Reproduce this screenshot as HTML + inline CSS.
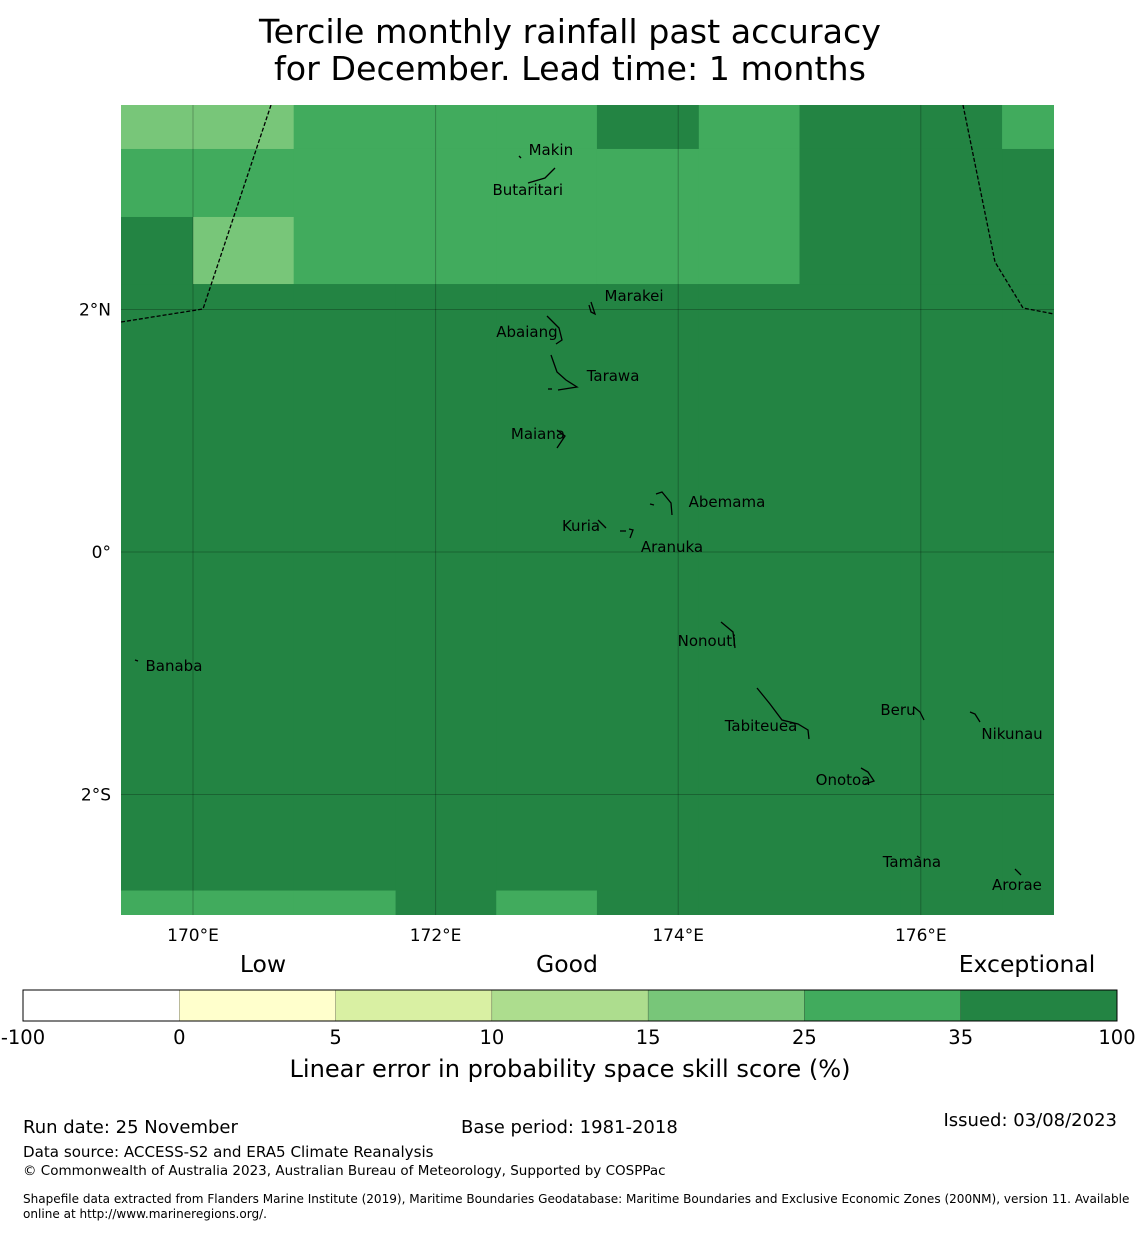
<!DOCTYPE html>
<html><head><meta charset="utf-8">
<style>
body{margin:0;background:#fff;font-family:"DejaVu Sans","Liberation Sans",sans-serif;}
svg text{font-family:"DejaVu Sans","Liberation Sans",sans-serif;}
</style></head>
<body>
<svg id="chart" width="1140" height="1230" viewBox="0 0 1140 1230" xmlns="http://www.w3.org/2000/svg">
<text x="570" y="43" font-size="33.3" text-anchor="middle">Tercile monthly rainfall past accuracy</text>
<text x="570" y="80" font-size="33.3" text-anchor="middle">for December. Lead time: 1 months</text>
<g id="map"></g>
<g id="cbar"></g>
<text x="263" y="972" font-size="23.5" text-anchor="middle">Low</text>
<text x="567" y="972" font-size="23.5" text-anchor="middle">Good</text>
<text x="1027" y="972" font-size="23.5" text-anchor="middle">Exceptional</text>
<text x="570" y="1077" font-size="24.1" text-anchor="middle">Linear error in probability space skill score (%)</text>
<text x="23" y="1133" font-size="18">Run date: 25 November</text>
<text x="461" y="1133" font-size="18">Base period: 1981-2018</text>
<text x="1117" y="1126" font-size="18" text-anchor="end">Issued: 03/08/2023</text>
<text x="23" y="1157" font-size="15.1">Data source: ACCESS-S2 and ERA5 Climate Reanalysis</text>
<text x="23" y="1175" font-size="13.5">© Commonwealth of Australia 2023, Australian Bureau of Meteorology, Supported by COSPPac</text>
<text x="23" y="1203" font-size="12.05">Shapefile data extracted from Flanders Marine Institute (2019), Maritime Boundaries Geodatabase: Maritime Boundaries and Exclusive Economic Zones (200NM), version 11. Available</text>
<text x="23" y="1218" font-size="12.05">online at http://www.marineregions.org/.</text>
</svg>
<script>
const colors=["#ffffff","#ffffcc","#d9f0a3","#addd8e","#78c679","#41ab5d","#238443"];
const cbarTicks=["-100","0","5","10","15","25","35","100"];
const colEdges=[169.4,170,170.83,171.67,172.5,173.33,174.17,175,175.83,176.67,177.1];
const rowEdges=[3.7,3.324,2.763,2.21,-2.792,-3.0];
const cells=[
 [4,4,5,5,5,6,5,6,6,5],
 [5,5,5,5,5,5,5,6,6,6],
 [6,4,5,5,5,5,5,6,6,6],
 [6,6,6,6,6,6,6,6,6,6],
 [5,5,5,6,5,6,6,6,6,6]
];
const lonTicks=[170,172,174,176];
const lonLabels=["170°E","172°E","174°E","176°E"];
const latTicks=[2,0,-2];
const latLabels=["2°N","0°","2°S"];
const islands=[["Makin",172.95,3.315],["Butaritari",172.76,2.986],["Marakei",173.636,2.111],["Abaiang",172.753,1.814],["Tarawa",173.463,1.452],["Maiana",172.844,0.973],["Abemama",174.402,0.412],["Kuria",173.199,0.214],["Aranuka",173.949,0.041],["Banaba",169.843,-0.94],["Nonouti",174.237,-0.734],["Tabiteuea",174.683,-1.435],["Beru",175.812,-1.303],["Nikunau",176.752,-1.501],["Onotoa",175.359,-1.88],["Tamana",175.927,-2.557],["Arorae",176.793,-2.746]];
const coasts=[
 "519,156 521,158","528,183 545,178 555,168","589,305 591,312 595,314 591,302","547,316 559,328 562,340 556,344","551,355 557,372 566,380 577,387 558,390","548,389 552,389","557,430 565,436 557,448","656,494 662,492 671,503 672,515","650,504 654,505","598,520 606,528","620,531 626,531","629,529 633,530 630,538","721,622 733,632 735,648","757,688 770,704 782,720 798,724 808,730 809,739","914,707 920,712 924,720","970,712 975,714 980,722","861,768 868,772 874,781 865,784","917,856 920,858","1015,869 1021,875","135,660 138,661"
];
const X0=193,PX=121.3,Y0=552;
const xs=l=>X0+(l-170)*PX, ys=l=>Y0-l*121.25;
const NS="http://www.w3.org/2000/svg";
function mk(t,a,p){const e=document.createElementNS(NS,t);for(const k in a)e.setAttribute(k,a[k]);p.appendChild(e);return e;}
const map=document.getElementById('map');
const cl=mk('clipPath',{id:'mc'},map);mk('rect',{x:121,y:105,width:933,height:810},cl);
const g=mk('g',{'clip-path':'url(#mc)'},map);
for(let r=0;r<cells.length;r++)for(let c=0;c<cells[r].length;c++){
 const x1=Math.max(121,xs(colEdges[c])),x2=Math.min(1054,xs(colEdges[c+1]));
 const y1=Math.max(105,ys(rowEdges[r])),y2=Math.min(915,ys(rowEdges[r+1]));
 const e=mk('rect',{x:x1,y:y1,width:x2-x1+0.5,height:y2-y1+0.5,fill:colors[cells[r][c]]},g);
 
 
}
lonTicks.forEach((t,i)=>{const x=xs(t);
 const l=mk('line',{x1:x,x2:x,y1:105,y2:915,stroke:'#000','stroke-opacity':0.25,'stroke-width':1},g);
 
 const tx=mk('text',{x:x,y:941,'font-size':17,'text-anchor':'middle'},map);tx.textContent=lonLabels[i];
 });
latTicks.forEach((t,i)=>{const y=ys(t);
 const l=mk('line',{x1:121,x2:1054,y1:y,y2:y,stroke:'#000','stroke-opacity':0.25,'stroke-width':1},g);
 
 const tx=mk('text',{x:111,y:y+6,'font-size':17,'text-anchor':'end'},map);tx.textContent=latLabels[i];
 });
[["271,105 203,309 121,322"],["963,105 995,262 1023,308 1054,314"]].forEach(p=>{
 const e=mk('polyline',{points:p[0],fill:'none',stroke:'#000','stroke-width':1.3,'stroke-dasharray':'4,2'},g);
 });
coasts.forEach(p=>{const e=mk('polyline',{points:p,fill:'none',stroke:'#000','stroke-width':1.3},g);
 });
islands.forEach(d=>{const t=mk('text',{x:xs(d[1]),y:ys(d[2])+5,'font-size':15,'text-anchor':'middle'},g);t.textContent=d[0];
 });
const cb=document.getElementById('cbar');const w=(1117-23)/colors.length;
colors.forEach((c,i)=>{const e=mk('rect',{x:23+i*w,y:990,width:w,height:31,fill:c,stroke:'#000','stroke-width':0.4,'stroke-opacity':0.5},cb);
 });
mk('rect',{x:23,y:990,width:1094,height:31,fill:'none',stroke:'#000','stroke-width':1},cb);
cbarTicks.forEach((t,i)=>{const e=mk('text',{x:23+i*w,y:1044,'font-size':19.5,'text-anchor':'middle'},cb);e.textContent=t;
 });
</script>
</body></html>
